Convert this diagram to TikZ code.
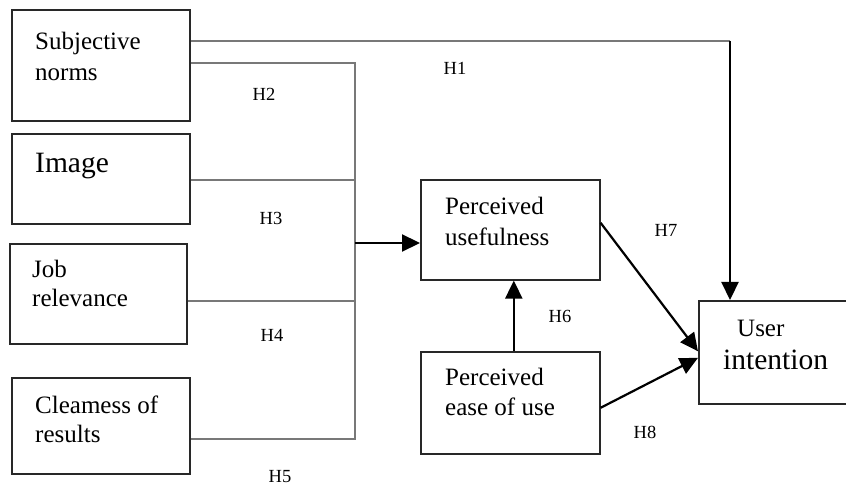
\documentclass[tikz,border=0pt]{standalone}
\usepackage{fontspec}
\setmainfont{Liberation Serif}
\usetikzlibrary{arrows.meta}
\definecolor{boxc}{RGB}{40,40,40}
\definecolor{linec}{RGB}{120,120,120}
\begin{document}
\begin{tikzpicture}[x=1pt,y=-1pt,
  box/.style={draw=boxc,line width=1.6pt,anchor=north west,inner sep=0pt},
  lbl/.style={anchor=base west,inner sep=0pt,font=\fontsize{25}{30}\selectfont},
  big/.style={anchor=base west,inner sep=0pt,font=\fontsize{29.5}{34}\selectfont},
  hyp/.style={inner sep=0pt,font=\fontsize{18.5}{20}\selectfont},
  conn/.style={draw=linec,line width=1.6pt},
  arr/.style={draw=black,line width=2.2pt,-{Triangle[length=18pt,width=17pt]}}]
\useasboundingbox (0,0) rectangle (846,486);

% boxes
\node[box,minimum width=178pt,minimum height=111pt] (sn) at (11,9) {};
\node[box,minimum width=178pt,minimum height=90pt] (img) at (11,133) {};
\node[box,minimum width=177pt,minimum height=100pt] (job) at (9,243) {};
\node[box,minimum width=178pt,minimum height=96pt] (clr) at (11,377) {};
\node[box,minimum width=179pt,minimum height=100pt] (pu) at (420,179) {};
\node[box,minimum width=179pt,minimum height=102pt] (peou) at (420,351) {};
\node[box,minimum width=156pt,minimum height=103pt] (ui) at (698,300) {};

% texts
\node[lbl] (t1) at (35,50) {Subjective};
\node[lbl] (t2) at (35,81) {norms};
\node[big] (t3) at (35,173) {Image};
\node[lbl] (t4) at (32,278) {Job};
\node[lbl] (t5) at (32,307) {relevance};
\node[lbl] (t6) at (35,413) {Cleamess of};
\node[lbl] (t7) at (35,442) {results};
\node[lbl] (t8) at (445,215) {Perceived};
\node[lbl] (t9) at (445,246) {usefulness};
\node[lbl] (t10) at (445,385) {Perceived};
\node[lbl] (t11) at (445,415) {ease of use};
\node[lbl] (t12) at (737,336) {User};
\node[big] (t13) at (723,369) {intention};

% hypothesis labels
\node[hyp] (h1) at (455,68) {H1};
\node[hyp] (h2) at (264,94) {H2};
\node[hyp] (h3) at (271,218) {H3};
\node[hyp] (h4) at (272,335) {H4};
\node[hyp] (h5) at (280,477) {H5};
\node[hyp] (h6) at (560,316) {H6};
\node[hyp] (h7) at (666,230) {H7};
\node[hyp] (h8) at (645,432) {H8};

% connectors
\coordinate (c1) at (730,41);
\coordinate (bt) at (355,63);
\coordinate (bi) at (355,180);
\coordinate (bus) at (355,243);
\coordinate (bj) at (355,301);
\coordinate (bb) at (355,439);

\draw[conn] (sn.east |- c1) -- (c1);
\draw[arr] (c1) -- (c1 |- ui.north);
\draw[conn] (sn.east |- bt) -- (bt) -- (bb) -- (clr.east |- bb);
\draw[conn] (img.east |- bi) -- (bi);
\draw[conn] (job.east |- bj) -- (bj);
\draw[arr] (bus) -- (pu.west |- bus);
\draw[arr] ([yshift=7pt]pu.east) -- ([yshift=1pt]ui.west);
\draw[arr] ([yshift=-5pt]peou.east) -- ([yshift=-5.5pt]ui.west);
\draw[arr] ([xshift=3.5pt]peou.north) -- ([xshift=3.5pt]pu.south);
\end{tikzpicture}
\end{document}
